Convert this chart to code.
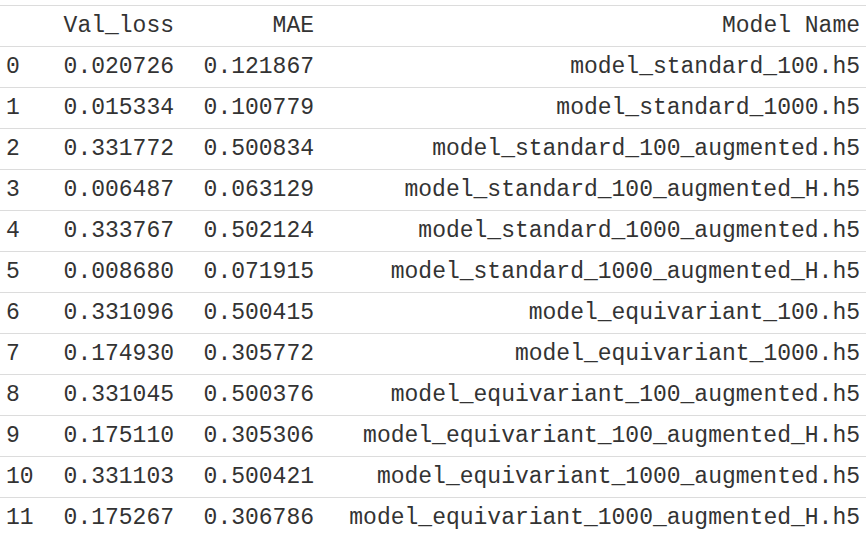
import React from 'react';

const indices = ['0', '1', '2', '3', '4', '5', '6', '7', '8', '9', '10', '11'];
const valLoss = ['0.020726', '0.015334', '0.331772', '0.006487', '0.333767', '0.008680', '0.331096', '0.174930', '0.331045', '0.175110', '0.331103', '0.175267'];
const mae = ['0.121867', '0.100779', '0.500834', '0.063129', '0.502124', '0.071915', '0.500415', '0.305772', '0.500376', '0.305306', '0.500421', '0.306786'];
const modelNames = [
  'model_standard_100.h5',
  'model_standard_1000.h5',
  'model_standard_100_augmented.h5',
  'model_standard_100_augmented_H.h5',
  'model_standard_1000_augmented.h5',
  'model_standard_1000_augmented_H.h5',
  'model_equivariant_100.h5',
  'model_equivariant_1000.h5',
  'model_equivariant_100_augmented.h5',
  'model_equivariant_100_augmented_H.h5',
  'model_equivariant_1000_augmented.h5',
  'model_equivariant_1000_augmented_H.h5',
];
const headers = ['', 'Val_loss', 'MAE', 'Model Name'];
const colWidths = [50, 130, 140, 546];

const cell: React.CSSProperties = { height: 40, padding: '0 6px', whiteSpace: 'pre', borderBottom: '1px solid #dcdcdc', overflow: 'visible' };

const App: React.FC = () => (
  <div style={{ position: 'absolute', left: 0, top: 0, width: 866, height: 536, background: '#fff', overflow: 'hidden' }}>
    <table style={{ position: 'absolute', top: 5, left: 0, width: 866, tableLayout: 'fixed', borderCollapse: 'collapse', fontFamily: '"Liberation Mono", "Cousine", "Courier New", monospace', fontSize: 23, color: '#333', borderTop: '1px solid #dcdcdc' }}>
      <colgroup>
        {colWidths.map((w, i) => <col key={i} style={{ width: w }} />)}
      </colgroup>
      <thead>
        <tr>
          {headers.map((h, i) => (
            <th key={i} style={{ ...cell, fontWeight: 'normal', textAlign: i === 0 ? 'left' : 'right' }}>{h}</th>
          ))}
        </tr>
      </thead>
      <tbody>
        {indices.map((idx, i) => (
          <tr key={idx}>
            <td style={{ ...cell, textAlign: 'left' }}>{idx}</td>
            <td style={{ ...cell, textAlign: 'right' }}>{valLoss[i]}</td>
            <td style={{ ...cell, textAlign: 'right' }}>{mae[i]}</td>
            <td style={{ ...cell, textAlign: 'right' }}>{modelNames[i]}</td>
          </tr>
        ))}
      </tbody>
    </table>
  </div>
);

export default App;
